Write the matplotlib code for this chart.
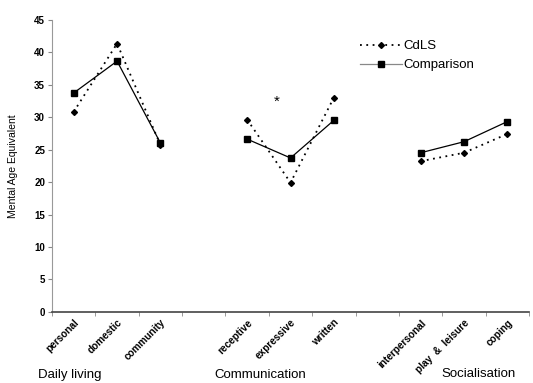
import matplotlib
matplotlib.use("Agg")
import matplotlib.pyplot as plt
import numpy as np

categories = ["personal", "domestic", "community", "", "receptive", "expressive",
              "written", "", "interpersonal", "play  &  leisure", "coping"]
cdls = [30.8, 41.3, 25.7, None, 29.6, 19.9, 33.0, None, 23.2, 24.5, 27.4]
comparison = [33.7, 38.6, 26.0, None, 26.6, 23.7, 29.5, None, 24.5, 26.2, 29.3]
groups = ["Daily living", "Communication", "Socialisation"]
yticks = [0, 5, 10, 15, 20, 25, 30, 35, 40, 45]

plt.rcParams['font.family'] = ['Liberation Sans', 'DejaVu Sans']

fig = plt.figure(figsize=(5.33, 3.83), dpi=100)
ax = fig.add_axes([0.0976, 0.1854, 0.895, 0.7636])

x = np.arange(len(categories))
def seg(vals):
    return np.array([np.nan if v is None else v for v in vals], dtype=float)

c = seg(cdls)
m = seg(comparison)
ax.plot(x, c, linestyle=(0, (1, 2.5)), color='black', lw=1.3, marker='D',
        markersize=3, label='CdLS')
ax.plot(x, m, linestyle='-', color='black', lw=0.9, marker='s',
        markersize=5, label='Comparison')

ax.text(4.69, 32.4, '*', fontsize=11, ha='center', va='center')

ax.set_xlim(-0.5, len(categories) - 0.5)
ax.set_ylim(0, 45)
ax.set_yticks(yticks)
ax.set_yticklabels([str(v) for v in yticks], fontsize=7, fontweight='bold')
ax.set_xticks(x)
ax.set_xticklabels(categories, rotation=45, ha='right', va='top',
                   rotation_mode='anchor', fontsize=7.2, fontweight='bold')
ax.tick_params(axis='x', which='major', length=0, pad=4)
ax.set_xticks(np.arange(len(categories) + 1) - 0.5, minor=True)
ax.tick_params(axis='x', which='minor', length=3, direction='out', color='#888888')
ax.tick_params(axis='y', length=3, direction='out', color='#888888', pad=2)

ax.spines['top'].set_visible(False)
ax.spines['right'].set_visible(False)
ax.spines['left'].set_color('#999999')
ax.spines['bottom'].set_color('#444444')
ax.spines['bottom'].set_linewidth(1.2)

ax.set_ylabel('Mental Age Equivalent', fontsize=7.5, labelpad=12)

leg = ax.legend(loc='upper left', bbox_to_anchor=(0.62, 0.97), frameon=False,
                fontsize=9.5, handlelength=3.2, handletextpad=0.1, labelspacing=0.5)
leg.get_lines()[1].set_color('#888888')
leg.get_lines()[1].set_markerfacecolor('black')
leg.get_lines()[1].set_markeredgecolor('black')

fig.text(38 / 533, 1 - 375 / 383, groups[0], fontsize=9.5, ha='left', va='center')
fig.text(260 / 533, 1 - 375 / 383, groups[1], fontsize=9.5, ha='center', va='center')
fig.text(441 / 533, 1 - 374 / 383, groups[2], fontsize=9.5, ha='left', va='center')

fig.savefig('out.png', dpi=100)
